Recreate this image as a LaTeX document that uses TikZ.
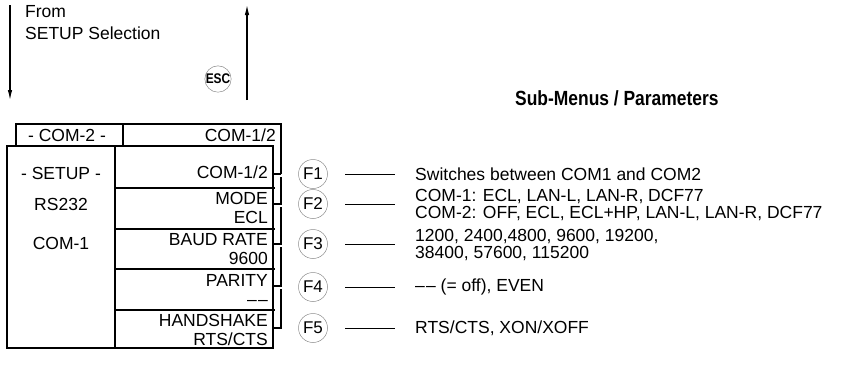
\documentclass[tikz,border=0pt]{standalone}
\usepackage{fontspec}
\setmainfont{Liberation Sans}
\newfontfamily\condfont[FakeStretch=0.85]{Liberation Sans Bold}
\newcommand{\ddash}{–\kern1.2pt–}
\usetikzlibrary{arrows.meta}
\begin{document}
\begin{tikzpicture}[x=1pt,y=-1pt,
  boxline/.style={line width=2.8pt},
  fkey/.style={circle,draw=black!45,line width=0.5pt,minimum size=29pt,inner sep=0pt,font=\fontsize{17}{17}\selectfont},
  lbl/.style={font=\fontsize{17.5}{18.5}\selectfont,inner sep=0pt},
  desc/.style={font=\fontsize{17.5}{17.5}\selectfont,anchor=west,inner sep=0pt,align=left},
  lead/.style={line width=0.7pt},
  flow/.style={line width=1.1pt,-{Latex[length=10pt,width=4.5pt]}}
]
\useasboundingbox (0,0) rectangle (852,365);
% top flow
\coordinate (dtop) at (10,5);
\coordinate (dbot) at (10,100);
\draw[flow] (dtop) -- (dbot);
\node[font=\fontsize{17.5}{22}\selectfont,inner sep=0pt,anchor=north west,align=left] (from) at (25,5) {From\\SETUP Selection};
\node[circle,draw=black!45,line width=0.5pt,minimum size=24pt,inner sep=0pt,font=\condfont\fontsize{14}{14}\selectfont] (esc) at (218,79) {ESC};
\coordinate (ubot) at (247,100);
\coordinate (utop) at (247,5);
\draw[flow] (ubot) -- (utop);
\node[font=\condfont\fontsize{20.5}{20.5}\selectfont,anchor=west,inner sep=0pt] (sub) at (515,98) {Sub-Menus / Parameters};
% header box
\draw[boxline] (16,146) -- (16,124) -- (281,124) -- (281,174);
\draw[boxline] (123,124) -- (123,146);
\node[lbl] (com2) at (67,135) {- COM-2 -};
\node[lbl,anchor=east] (com12h) at (276,135) {COM-1/2};
% front box
\draw[boxline,fill=white] (7,146) rectangle (273,348);
\draw[boxline] (115,146) -- (115,348);
\foreach \y in {188,229,269,310} \draw[boxline] (115,\y) -- (275,\y);
\node[lbl] (setup) at (61,173) {- SETUP -};
\node[lbl] (rs) at (61,204) {RS232};
\node[lbl] (com1) at (61,243) {COM-1};
\node[lbl,anchor=east] (r1) at (268,172) {COM-1/2};
\node[lbl,anchor=east,align=right] (r2) at (268,208) {MODE\\ECL};
\node[lbl,anchor=east,align=right] (r3) at (268,249) {BAUD RATE\\9600};
\node[lbl,anchor=east,align=right] (r4) at (268,290) {PARITY\\\ddash};
\node[lbl,anchor=east,align=right] (r5) at (268,330) {HANDSHAKE\\RTS/CTS};
% brackets
\draw[boxline] (281,174) -- (272,174);
\draw[boxline] (281,177) -- (281,204) -- (272,204);
\draw[boxline] (281,207) -- (281,244) -- (272,244);
\draw[boxline] (281,247) -- (281,286) -- (272,286);
\draw[boxline] (281,289) -- (281,328) -- (272,328);
% F keys
\node[fkey] (f1) at (313,174) {F1};
\node[fkey] (f2) at (313,204) {F2};
\node[fkey] (f3) at (313,244) {F3};
\node[fkey] (f4) at (313,287) {F4};
\node[fkey] (f5) at (313,328) {F5};
% descriptions
\node[desc] (d1) at (415,174) {Switches between COM1 and COM2};
\node[desc] (d2) at (415,205) {COM-1: ECL, LAN-L, LAN-R, DCF77\\COM-2: OFF, ECL, ECL+HP, LAN-L, LAN-R, DCF77};
\node[desc] (d3) at (415,245) {1200, 2400,4800, 9600, 19200,\\38400, 57600, 115200};
\node[desc] (d4) at (415,287) {\ddash{} (= off), EVEN};
\node[desc] (d5) at (415,328) {RTS/CTS, XON/XOFF};
\foreach \i/\y in {1/174,2/204,3/244,4/287,5/328}{
  \coordinate (la\i) at (345,\y);
  \coordinate (lb\i) at (395,\y);
  \draw[lead] (la\i) -- (lb\i);
}
\end{tikzpicture}
\end{document}
